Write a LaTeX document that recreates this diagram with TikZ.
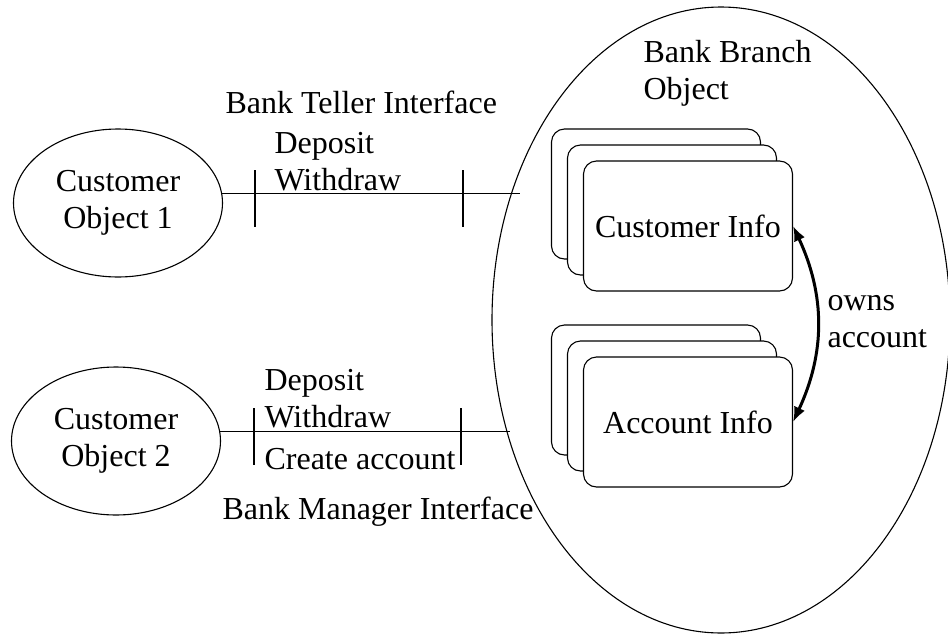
\documentclass[tikz,border=0pt]{standalone}
\usepackage{fontspec}
\setmainfont{Liberation Serif}
\usetikzlibrary{shapes.geometric,arrows.meta}

\begin{document}
\begin{tikzpicture}[x=1pt,y=-1pt,line width=1.1pt,>={Latex[length=15pt,width=12pt]},
    font=\fontsize{32}{37}\selectfont]
    \tikzstyle{obj}=[draw, ellipse, inner sep=0pt, minimum width=209pt, minimum height=148pt, align=center]
    \tikzstyle{card}=[draw, fill=white, rounded corners=13pt, inner sep=0pt, minimum width=209pt, minimum height=130pt]
    \tikzstyle{txt}=[inner sep=0pt, anchor=west, align=left]

    \useasboundingbox (0,0) rectangle (948,635);

    \node[obj] (cust1) at (118,203) {Customer\\Object 1};
    \node[obj] (cust2) at (116,441) {Customer\\Object 2};
    \node[draw, ellipse, minimum width=458pt, minimum height=626pt] (branch) at (721,320) {};

    \node[txt] (teller)  at (225,102) {Bank Teller Interface};
    \node[txt] (ops1)    at (274,162) {Deposit\\Withdraw};
    \node[txt] (ops2)    at (264,399) {Deposit\\Withdraw};
    \node[txt] (create)  at (264,459) {Create account};
    \node[txt] (manager) at (222,512) {Bank Manager Interface};
    \node[txt] (bbo)     at (643,73)  {Bank Branch\\Object};
    \node[txt] (owns)    at (827,322) {owns\\account};

    % stacked records
    \foreach \d in {32,16} {
        \node[card] (cinfo-\d) at (688-\d,226-\d) {};
        \node[card] (ainfo-\d) at (688-\d,422-\d) {};
    }
    \node[card] (cinfo) at (688,226) {Customer Info};
    \node[card] (ainfo) at (688,422) {Account Info};

    \coordinate (tellerEnd)  at (520,194);
    \coordinate (managerEnd) at (510,432);
    \path
     (cust1.5) edge (cust1.5 -| tellerEnd)
     (cust2.5) edge (cust2.5 -| managerEnd)
     (cinfo.east) edge[<->, line width=3pt, bend left=25] (ainfo.east)
     ;
    \foreach \x in {255,463} \draw (\x,170) -- (\x,227);
    \foreach \x in {254,461} \draw (\x,408) -- (\x,465);
\end{tikzpicture}
\end{document}
